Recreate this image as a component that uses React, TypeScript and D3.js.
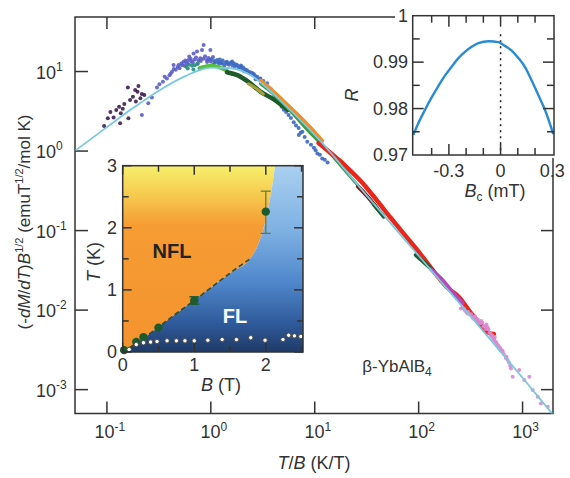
import React from "react";
import * as d3 from "d3";

type P = [number, number];

// ---------------- main panel ----------------
const xTickVals = [0.1, 1, 10, 100, 1000];
const xTickExps = ["-1", "0", "1", "2", "3"];
const yTickVals = [10, 1, 0.1, 0.01, 0.001];
const yTickExps = ["1", "0", "-1", "-2", "-3"];

const theoryTB = [0.05, 0.1, 0.178, 0.316, 0.562, 1, 1.58, 2.51, 3.98, 6.31, 10, 31.6, 100, 316, 1000, 1950];
const theoryVal = [1.02, 2.0, 3.47, 5.75, 8.7, 11.2, 11.0, 8.7, 5.25, 2.95, 1.6, 0.277, 0.0482, 0.0084, 0.00141, 0.00049];

const purplePts: P[] = [
  [0.094, 2.06], [0.102, 2.58], [0.116, 2.65], [0.123, 3.28], [0.131, 3.61], [0.136, 2.98],
  [0.147, 3.9], [0.159, 6.32], [0.167, 4.39], [0.178, 4.82], [0.187, 5.85], [0.197, 5.57],
  [0.201, 6.58], [0.217, 5.21], [0.229, 5.06], [0.161, 2.58], [0.134, 2.23], [0.108, 3.1],
  [0.142, 3.4], [0.21, 4.6], [0.19, 4.2],
];
const violetPts: P[] = [
  [0.217, 2.84], [0.271, 4.73], [0.303, 6.32], [0.346, 7.45], [0.378, 8.2], [0.423, 9.95],
  [0.438, 12.1], [0.489, 12.1], [0.547, 13.3], [0.611, 14.0], [0.682, 16.9], [0.736, 17.8],
  [0.822, 18.6], [0.853, 21.5], [0.99, 18.6], [0.792, 14.7], [0.918, 14.0], [0.25, 4.0],
  [0.32, 6.9], [0.4, 9.0], [0.46, 10.5], [0.52, 12.6], [0.58, 12.9], [0.65, 13.5], [0.7, 14.2],
  [0.76, 13.8], [0.85, 14.5], [0.95, 14.8], [1.05, 15.2], [0.62, 15.4], [0.56, 11.8], [0.5, 11.0],
  [0.36, 8.6], [0.41, 9.4], [0.44, 10.8], [0.48, 11.4], [0.53, 12.0], [0.57, 13.8], [0.6, 12.5],
  [0.64, 14.5], [0.67, 13.0], [0.72, 15.0], [0.8, 13.6], [0.88, 15.6], [0.92, 13.2], [0.97, 14.1],
  [1.0, 13.4], [0.74, 12.4],
];
const bluePts: P[] = [
  [1.1, 13.0], [1.15, 14.0], [1.2, 12.5], [1.3, 13.8], [1.43, 13.3], [1.5, 12.2], [1.6, 13.4],
  [1.66, 12.7], [1.8, 12.0], [1.92, 11.5], [2.0, 10.8], [2.23, 10.4], [2.4, 9.8], [2.59, 9.3],
  [2.8, 8.6], [3.0, 8.2], [3.2, 7.6], [3.48, 7.1], [3.8, 6.0], [4.04, 5.2], [4.4, 4.4], [4.8, 3.6],
  [5.03, 3.3], [5.6, 2.84], [6.28, 2.3], [7.0, 1.95], [7.3, 1.7], [7.03, 1.59], [8.47, 1.31],
  [9.2, 1.2], [10.6, 0.935], [11.8, 0.809], [12.5, 0.78], [1.05, 12.2], [1.25, 12.9], [1.7, 11.6],
  [2.1, 10.1], [2.7, 8.0], [3.3, 6.8], [1.35, 12.0],
  [1.02, 14.4], [1.08, 13.6], [1.18, 13.1], [1.22, 14.2], [1.28, 12.6], [1.38, 13.0], [1.45, 12.5],
  [1.55, 12.9], [1.62, 11.9], [1.75, 12.3], [1.85, 11.1], [1.95, 11.9], [2.05, 11.2], [2.15, 10.6],
  [2.3, 9.9], [2.5, 9.6], [2.65, 8.9], [2.9, 8.0], [3.1, 7.3], [3.4, 6.6], [3.6, 6.2], [3.9, 5.6],
  [4.2, 4.9], [4.6, 4.1], [5.3, 3.1], [5.9, 2.6], [6.6, 2.1], [7.6, 1.75], [8.0, 1.5], [9.8, 1.1],
  [10.2, 1.02], [11.2, 0.9], [13.3, 0.72],
];
const tealPts: P[] = [
  [0.58, 11.5], [0.62, 12.2], [0.66, 11.8], [0.7, 12.0], [0.75, 12.6], [0.6, 10.9], [0.68, 10.6], [0.78, 11.0],
];
const pinkPts: P[] = [
  [255, 0.0105], [296, 0.00908], [342, 0.00824], [397, 0.00681], [461, 0.00589], [533, 0.00441],
  [575, 0.00363], [643, 0.00299], [718, 0.00235], [773, 0.00185], [803, 0.00145], [929, 0.00176],
  [1038, 0.00132], [1161, 0.00145], [1251, 0.000986], [1399, 0.000811], [1503, 0.00067], [1746, 0.000608],
  [280, 0.0098], [310, 0.0088], [330, 0.008], [360, 0.0074], [380, 0.0071], [420, 0.0062], [440, 0.0058],
  [480, 0.0052], [500, 0.0047], [520, 0.0044], [560, 0.0039], [600, 0.0034], [620, 0.0031],
  [660, 0.0028], [690, 0.0025], [300, 0.0095], [350, 0.0083], [410, 0.007], [450, 0.0066],
  [470, 0.0057], [540, 0.0046],
  [265, 0.0108], [275, 0.0103], [290, 0.0094], [320, 0.0089], [340, 0.0078], [370, 0.0077],
  [390, 0.0069], [400, 0.0073], [430, 0.0063], [460, 0.0061], [490, 0.0051], [510, 0.0048],
  [530, 0.0042], [550, 0.004], [580, 0.0036], [610, 0.0033], [640, 0.0031], [700, 0.0026],
  [740, 0.0022], [760, 0.002],
];

const brightGreenBand: P[] = [[0.8, 11.2], [0.9, 11.6], [1.0, 11.8], [1.1, 11.7], [1.25, 11.1], [1.43, 10.2]];
const darkGreenBand: P[] = [[1.43, 9.8], [1.8, 9.0], [2.3, 7.4], [3.0, 5.6], [4.0, 4.5], [5.5, 3.3]];
const oliveBand: P[] = [[2.3, 7.0], [2.8, 6.0], [3.2, 5.2]];
const greenBand: P[] = [[3.0, 7.0], [4.0, 5.2], [6.0, 3.05], [9.0, 1.7], [13, 1.05], [20, 0.55], [30, 0.3]];
const orangeBand: P[] = [[3.0, 7.7], [3.75, 6.05], [5.0, 4.25], [6.8, 2.88], [9.1, 1.95], [11.8, 1.34]];
const khakiBand: P[] = [[17.8, 0.78], [24, 0.5], [32, 0.35]];
const redBand: P[] = [
  [10.9, 1.26], [14.2, 0.944], [19.8, 0.647], [27.7, 0.419], [38.6, 0.25], [53.8, 0.145],
  [75.2, 0.085], [105, 0.05], [146, 0.0284], [191, 0.0189], [244, 0.0146], [318, 0.0092],
  [415, 0.0061], [470, 0.0052], [530, 0.005],
];
const darkRedBand: P[] = [[26, 0.36], [32, 0.27], [40, 0.19]];
const darkGreenSegA: P[] = [[36.9, 0.215], [46.0, 0.15]];
const darkGreenSegB: P[] = [[93.8, 0.0492], [137, 0.0318]];
const magentaBand: P[] = [[131, 0.0328], [171, 0.0238], [213, 0.0168], [266, 0.0122]];

// ---------------- phase-diagram inset ----------------
const phaseBTicks = [0, 0.5, 1, 1.5, 2, 2.5];
const phaseBLabels = [0, 1, 2];
const phaseTTicks = [0, 0.5, 1, 1.5, 2, 2.5, 3];
const phaseTLabels = [0, 1, 2, 3];
const boundaryB = [0, 0.2, 0.3, 0.5, 0.75, 1.0, 1.25, 1.5, 1.78, 1.9, 1.97, 2.03, 2.08, 2.13];
const boundaryT = [0, 0.15, 0.23, 0.4, 0.62, 0.83, 1.05, 1.27, 1.5, 1.75, 2.0, 2.3, 2.6, 3.0];
const dashedCount = 9;
const crossB = [0.02, 0.19, 0.29, 0.5, 1.0, 2.0];
const crossT = [0.03, 0.16, 0.24, 0.39, 0.83, 2.26];
const crossErrLo = [0, 0, 0, 0, 0.06, 0.35];
const crossErrHi = [0, 0, 0, 0, 0.06, 0.33];
const openB = [0.09, 0.19, 0.29, 0.39, 0.48, 0.62, 0.75, 0.87, 1.0, 1.19, 1.39, 1.59, 1.79, 1.99, 2.24, 2.32, 2.4, 2.49];
const openT = [0.04, 0.12, 0.15, 0.16, 0.17, 0.18, 0.18, 0.18, 0.18, 0.19, 0.2, 0.2, 0.23, 0.19, 0.2, 0.27, 0.26, 0.25];

// ---------------- R inset ----------------
const rBc = [-0.507, -0.478, -0.439, -0.4, -0.362, -0.323, -0.284, -0.246, -0.207, -0.168, -0.129, -0.068,
  -0.013, 0.025, 0.064, 0.103, 0.141, 0.18, 0.219, 0.258, 0.306];
const rVal = [0.9743, 0.9768, 0.9797, 0.9824, 0.9848, 0.9871, 0.989, 0.9908, 0.9922, 0.9933, 0.9941, 0.9945,
  0.9943, 0.9935, 0.9925, 0.9909, 0.989, 0.9861, 0.9829, 0.9797, 0.9745];
const rXTicks = [-0.4, -0.3, -0.2, -0.1, 0, 0.1, 0.2];
const rXLabels = [-0.3, 0, 0.3];
const rYTicks = [0.975, 0.98, 0.985, 0.99, 0.995];
const rYLabels = ["0.97", "0.98", "0.99", "1"];
const rYLabelVals = [0.97, 0.98, 0.99, 1];

const INK = "#333";
const FONT = "Liberation Sans, Arial, Helvetica, sans-serif";

export default function App() {
  const xM = d3.scaleLog().domain([0.0493, 1963]).range([75, 553]);
  const yM = d3.scaleLog().domain([0.000501, 48.5]).range([413.5, 17]);
  const mLine = d3.line<P>().x((d) => xM(d[0])).y((d) => yM(d[1])).curve(d3.curveMonotoneX);
  const theory: P[] = theoryTB.map((t, i) => [t, theoryVal[i]]);

  const xP = d3.scaleLinear().domain([0, 2.52]).range([122.7, 303]);
  const yP = d3.scaleLinear().domain([0, 3]).range([352, 165.7]);
  const bnd: P[] = boundaryB.map((b, i) => [b, boundaryT[i]]);
  const pLine = d3.line<P>().x((d) => xP(d[0])).y((d) => yP(d[1])).curve(d3.curveMonotoneX);
  const bPath = pLine(bnd) as string;
  const nflPath = `${bPath}L${xP(0)},${yP(3)}Z`;
  const flPath = `${bPath}L${xP(2.52)},${yP(3)}L${xP(2.52)},${yP(0)}Z`;
  const dashPath = pLine(bnd.slice(0, dashedCount)) as string;

  const xR = d3.scaleLinear().domain([-0.51, 0.31]).range([412.7, 554]);
  const yR = d3.scaleLinear().domain([0.97, 1]).range([155, 15.7]);
  const rLine = d3.line<number>().x((_, i) => xR(rBc[i])).y((d) => yR(d)).curve(d3.curveMonotoneX);

  const dots = (pts: P[], color: string, r = 2) =>
    pts.map((d, i) => <circle key={i} cx={xM(d[0])} cy={yM(d[1])} r={r} fill={color} opacity={0.9} />);
  const band = (pts: P[], color: string, w = 3.5) => (
    <path d={mLine(pts) as string} fill="none" stroke={color} strokeWidth={w} strokeLinecap="round" strokeLinejoin="round" />
  );

  return (
    <svg width={570} height={478} style={{ position: "absolute", left: 0, top: 0, background: "#fff" }} fontFamily={FONT}>
      <defs>
        <clipPath id="mainClip">
          <rect x={75} y={17} width={478} height={396.5} />
        </clipPath>
        <linearGradient id="nflGrad" x1="0" y1="0" x2="0" y2="1">
          <stop offset="0%" stopColor="#f7ef6c" />
          <stop offset="14%" stopColor="#f6cf52" />
          <stop offset="32%" stopColor="#f59c33" />
          <stop offset="100%" stopColor="#f5932f" />
        </linearGradient>
        <linearGradient id="flGrad" x1="0" y1="0" x2="0" y2="1">
          <stop offset="0%" stopColor="#a9d0f0" />
          <stop offset="35%" stopColor="#7eb0e3" />
          <stop offset="62%" stopColor="#5088cc" />
          <stop offset="85%" stopColor="#2f5a9a" />
          <stop offset="100%" stopColor="#1f3a66" />
        </linearGradient>
      </defs>

      {/* main frame */}
      <rect x={75} y={17} width={478} height={396.5} fill="none" stroke={INK} strokeWidth={1.5} />
      {xTickVals.map((t, i) => (
        <g key={"xt" + i}>
          <line x1={xM(t)} x2={xM(t)} y1={413.5} y2={401.5} stroke={INK} strokeWidth={1.5} />
          <line x1={xM(t)} x2={xM(t)} y1={17} y2={29} stroke={INK} strokeWidth={1.5} />
          <text x={xM(t) + 3} y={438} textAnchor="middle" fontSize={18} fill={INK}>
            10<tspan dy={-7} fontSize={12}>{xTickExps[i]}</tspan>
          </text>
        </g>
      ))}
      {yTickVals.map((t, i) => (
        <g key={"yt" + i}>
          <line x1={75} x2={88} y1={yM(t)} y2={yM(t)} stroke={INK} strokeWidth={1.5} />
          <line x1={553} x2={541} y1={yM(t)} y2={yM(t)} stroke={INK} strokeWidth={1.5} />
          <text x={56} y={yM(t) + 7} textAnchor="end" fontSize={18} fill={INK}>
            10
          </text>
          <text x={56} y={yM(t) - 1} textAnchor="start" fontSize={12} fill={INK}>
            {yTickExps[i]}
          </text>
        </g>
      ))}
      <text x={314} y={469} textAnchor="middle" fontSize={18} fill={INK}>
        <tspan fontStyle="italic">T</tspan>/<tspan fontStyle="italic">B</tspan>  (K/T)
      </text>
      <text transform="translate(30,222) rotate(-90)" textAnchor="middle" fontSize={17} fill={INK}>
        (-<tspan fontStyle="italic">dM</tspan>/<tspan fontStyle="italic">dT</tspan>)<tspan fontStyle="italic">B</tspan>
        <tspan dy={-7} fontSize={11}>1/2</tspan>
        <tspan dy={7}> (emuT</tspan>
        <tspan dy={-7} fontSize={11}>1/2</tspan>
        <tspan dy={7}>/mol K)</tspan>
      </text>

      {/* main data */}
      <g clipPath="url(#mainClip)">
        {dots(purplePts, "#3d1e52")}
        {dots(violetPts, "#5b5ec6")}
        {dots(bluePts, "#3d68c0")}
        {dots(tealPts, "#2a8f7d")}
        {band(brightGreenBand, "#55c23a", 4)}
        {band(darkGreenBand, "#1f5a2a", 4.5)}
        {band(oliveBand, "#a9a23c", 3)}
        {band(greenBand, "#3f9a4a", 3)}
        {band(orangeBand, "#f28c26", 4)}
        {band(khakiBand, "#c9a848", 2.5)}
        {band(redBand, "#e8261c", 4.5)}
        {band(darkRedBand, "#7a1414", 4)}
        {band(darkGreenSegA, "#1f5a2a", 4)}
        {band(darkGreenSegB, "#1f5a2a", 4)}
        {band(magentaBand, "#b448b8", 3.5)}
        {dots(pinkPts, "#d98ad2", 2)}
        <path d={mLine(theory) as string} fill="none" stroke="#78c9df" strokeWidth={1.8} />
      </g>

      <text x={397} y={372} textAnchor="middle" fontSize={17} fill={INK}>
        β-YbAlB<tspan dy={4} fontSize={12}>4</tspan>
      </text>

      {/* phase inset */}
      <g>
        <path d={nflPath} fill="url(#nflGrad)" />
        <path d={flPath} fill="url(#flGrad)" />
        <path d={dashPath} fill="none" stroke="#2d4f33" strokeWidth={1.6} strokeDasharray="5,3" />
        {crossB.map((b, i) =>
          crossErrLo[i] > 0 ? (
            <g key={"eb" + i} stroke={i === 5 ? "#6d7a3e" : "#1f5a2e"} strokeWidth={1.3}>
              <line x1={xP(b)} x2={xP(b)} y1={yP(crossT[i] - crossErrLo[i])} y2={yP(crossT[i] + crossErrHi[i])} />
              <line x1={xP(b) - 5} x2={xP(b) + 5} y1={yP(crossT[i] - crossErrLo[i])} y2={yP(crossT[i] - crossErrLo[i])} />
              <line x1={xP(b) - 5} x2={xP(b) + 5} y1={yP(crossT[i] + crossErrHi[i])} y2={yP(crossT[i] + crossErrHi[i])} />
            </g>
          ) : null
        )}
        {crossB.map((b, i) => (
          <circle key={"cp" + i} cx={xP(b)} cy={yP(crossT[i])} r={4.2} fill="#1e5a2c" />
        ))}
        {openB.map((b, i) => (
          <circle key={"op" + i} cx={xP(b)} cy={yP(openT[i])} r={2.2} fill="#fff" stroke="#444" strokeWidth={0.9} />
        ))}
        <text x={172} y={258} textAnchor="middle" fontSize={20} fontWeight="bold" fill="#222">NFL</text>
        <text x={235} y={323} textAnchor="middle" fontSize={20} fontWeight="bold" fill="#fff">FL</text>
        <rect x={122.7} y={165.7} width={180.3} height={186.3} fill="none" stroke={INK} strokeWidth={1.5} />
        {phaseBTicks.map((b, i) => {
          const len = b % 1 === 0 ? 9 : 6;
          return (
            <g key={"pbt" + i}>
              <line x1={xP(b)} x2={xP(b)} y1={352} y2={352 - len} stroke={INK} strokeWidth={1.5} />
              <line x1={xP(b)} x2={xP(b)} y1={165.7} y2={165.7 + len} stroke={INK} strokeWidth={1.5} />
            </g>
          );
        })}
        {phaseTTicks.map((t, i) => {
          const len = t % 1 === 0 ? 9 : 6;
          return (
            <g key={"ptt" + i}>
              <line x1={122.7} x2={122.7 + len} y1={yP(t)} y2={yP(t)} stroke={INK} strokeWidth={1.5} />
              <line x1={303} x2={303 - len} y1={yP(t)} y2={yP(t)} stroke={INK} strokeWidth={1.5} />
            </g>
          );
        })}
        {phaseBLabels.map((b) => (
          <text key={"pbl" + b} x={xP(b)} y={371} textAnchor="middle" fontSize={18} fill={INK}>{b}</text>
        ))}
        {phaseTLabels.map((t) => (
          <text key={"ptl" + t} x={117} y={yP(t) + 6} textAnchor="end" fontSize={18} fill={INK}>{t}</text>
        ))}
        <text x={221} y={391} textAnchor="middle" fontSize={18} fill={INK}>
          <tspan fontStyle="italic">B</tspan>  (T)
        </text>
        <text transform="translate(100,262) rotate(-90)" textAnchor="middle" fontSize={18} fill={INK}>
          <tspan fontStyle="italic">T</tspan> (K)
        </text>
      </g>

      {/* R inset */}
      <g>
        <rect x={395} y={0} width={175} height={158} fill="#fff" />
        <line x1={xR(0)} x2={xR(0)} y1={yR(0.996)} y2={155} stroke="#222" strokeWidth={1.5} strokeDasharray="2,4" />
        <path d={rLine(rVal) as string} fill="none" stroke="#2a8bd2" strokeWidth={2.4} />
        <rect x={412.7} y={15.7} width={141.3} height={139.3} fill="none" stroke={INK} strokeWidth={1.5} />
        {rXTicks.map((b, i) => {
          const major = rXLabels.some((l) => Math.abs(l - b) < 1e-6);
          const len = major ? 11 : 7;
          return (
            <g key={"rxt" + i}>
              <line x1={xR(b)} x2={xR(b)} y1={155} y2={155 - len} stroke={INK} strokeWidth={1.5} />
              <line x1={xR(b)} x2={xR(b)} y1={15.7} y2={15.7 + len} stroke={INK} strokeWidth={1.5} />
            </g>
          );
        })}
        {rYTicks.map((r, i) => {
          const major = rYLabelVals.some((l) => Math.abs(l - r) < 1e-6);
          const len = major ? 11 : 7;
          return (
            <g key={"ryt" + i}>
              <line x1={412.7} x2={412.7 + len} y1={yR(r)} y2={yR(r)} stroke={INK} strokeWidth={1.5} />
              <line x1={554} x2={554 - len} y1={yR(r)} y2={yR(r)} stroke={INK} strokeWidth={1.5} />
            </g>
          );
        })}
        {rXLabels.map((b) => (
          <text key={"rxl" + b} x={xR(b)} y={177} textAnchor="middle" fontSize={18} fill={INK}>
            {b === 0 ? "0" : b < 0 ? "-0.3" : "0.3"}
          </text>
        ))}
        {rYLabels.map((l, i) => (
          <text key={"ryl" + l} x={408} y={yR(rYLabelVals[i]) + 6} textAnchor="end" fontSize={18} fill={INK}>{l}</text>
        ))}
        <text x={495} y={197} textAnchor="middle" fontSize={18} fill={INK}>
          <tspan fontStyle="italic">B</tspan>
          <tspan dy={4} fontSize={12}>c</tspan>
          <tspan dy={-4}> (mT)</tspan>
        </text>
        <text transform="translate(358,95) rotate(-90)" textAnchor="middle" fontSize={18} fontStyle="italic" fill={INK}>R</text>
      </g>
    </svg>
  );
}
